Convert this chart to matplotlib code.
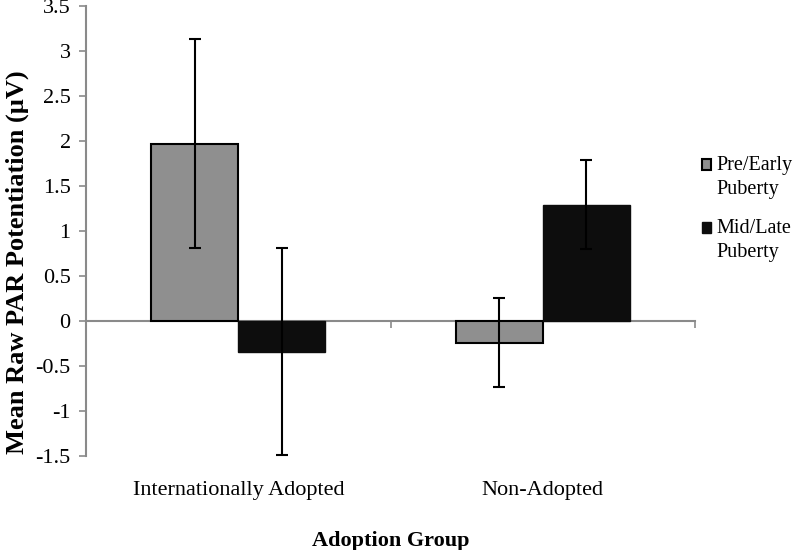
import matplotlib
matplotlib.use("Agg")
import matplotlib.pyplot as plt
from matplotlib.legend_handler import HandlerPatch
from matplotlib.patches import Rectangle
import numpy as np

groups = ["Internationally Adopted", "Non-Adopted"]
series = ["Pre/Early\nPuberty", "Mid/Late\nPuberty"]
pre_early = [1.97, -0.24]
pre_early_err = [1.16, 0.49]
mid_late = [-0.34, 1.29]
mid_late_err = [1.15, 0.495]
yticks = [-1.5, -1, -0.5, 0, 0.5, 1, 1.5, 2, 2.5, 3, 3.5]
ytick_labels = ["-1.5", "-1", "-0.5", "0", "0.5", "1", "1.5", "2", "2.5", "3", "3.5"]

plt.rcParams['font.family'] = ['Liberation Serif', 'DejaVu Serif']

fig = plt.figure(figsize=(8, 5.5), dpi=100)
ax = fig.add_axes([0.1075, 0.171, 0.7613, 0.818])

x = np.arange(len(groups))
w = 0.286
err_kw = dict(ecolor='black', elinewidth=1.5, capsize=4.5, capthick=1.5)
b1 = ax.bar(x - w/2, pre_early, w, yerr=pre_early_err, color='#8f8f8f',
            edgecolor='black', linewidth=1.5, error_kw=err_kw, label=series[0], zorder=2)
b2 = ax.bar(x + w/2, mid_late, w, yerr=mid_late_err, color='#0d0d0d',
            edgecolor='#0d0d0d', linewidth=1.0, error_kw=err_kw, label=series[1], zorder=2)

ax.set_xlim(-0.5, 1.5)
ax.set_ylim(-1.5, 3.5)
ax.set_yticks(yticks)
ax.set_yticklabels(ytick_labels)
ax.tick_params(axis='y', direction='out', length=5, width=1.2, color='#8a8a8a', labelsize=16, pad=6)

ax.set_xticks(x)
ax.set_xticklabels(groups)
ax.tick_params(axis='x', length=0, labelsize=16, pad=18)

for s in ['top', 'right', 'bottom']:
    ax.spines[s].set_visible(False)
ax.spines['left'].set_color('#8a8a8a')
ax.spines['left'].set_linewidth(1.5)

sec = ax.secondary_xaxis(1.5 / 5.0)
sec.set_xticks([0.5, 1.5])
sec.set_xticklabels(['', ''])
sec.tick_params(axis='x', direction='out', length=5, width=1.2, color='#8a8a8a')
sec.spines['bottom'].set_color('#8a8a8a')
sec.spines['bottom'].set_linewidth(1.5)
sec.spines['bottom'].set_zorder(1)

ax.set_ylabel("Mean Raw PAR Potentiation (\u00b5V)", fontsize=19, fontweight='bold')
ax.yaxis.set_label_coords(-0.093, 0.43)
ax.set_xlabel("Adoption Group", fontsize=16, fontweight='bold', labelpad=22)


def top_square(legend, orig_handle, xdescent, ydescent, width, height, fontsize):
    shift = 0.62 * fontsize
    return Rectangle((-xdescent, -ydescent + shift), width, height)


leg = fig.legend(handles=[b1.patches[0], b2.patches[0]], labels=series, loc='upper left',
                 bbox_to_anchor=(0.8775, 0.717), frameon=False, fontsize=14.5,
                 handlelength=0.45, handleheight=0.45, handletextpad=0.25,
                 labelspacing=1.0, borderaxespad=0, borderpad=0,
                 handler_map={Rectangle: HandlerPatch(patch_func=top_square)})
for t in leg.get_texts():
    t.set_linespacing(1.35)

fig.savefig("out.png", dpi=100)
